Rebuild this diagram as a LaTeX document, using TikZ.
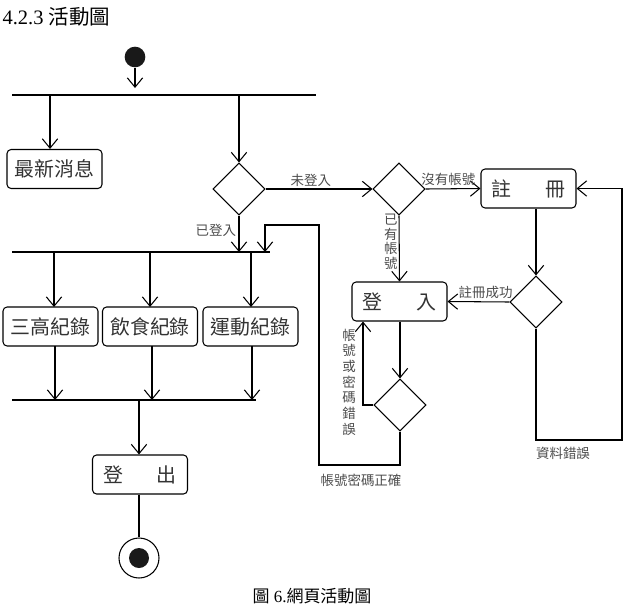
\documentclass[tikz,border=0pt]{standalone}
\usepackage{fontspec}
\setmainfont{Liberation Serif}
\newfontfamily\cjk{Noto Sans CJK TC}
\usetikzlibrary{arrows.meta,shapes.geometric}

\begin{document}
\begin{tikzpicture}[x=0.03cm,y=-0.03cm,line width=0.9pt,
  >={Straight Barb[length=2.8mm,width=4.6mm,line width=0.9pt]},
  act/.style={draw,rounded corners=3.5pt,minimum width=2.85cm,minimum height=1.17cm,
    inner sep=0pt,font=\cjk\fontsize{17}{20}\selectfont,text=black!80},
  spread/.style={text width=2.2cm,align=left},
  dec/.style={draw,diamond,aspect=1,minimum size=1.56cm,inner sep=0pt},
  lbl/.style={font=\cjk\fontsize{11.5}{13}\selectfont,text=black!70,inner sep=2pt},
  vlbl/.style={lbl,align=center,font=\cjk\fontsize{11.5}{12.4}\selectfont}]
\useasboundingbox (0,0) rectangle (624,606);

\node[anchor=west,inner sep=0pt,font=\fontsize{17.5}{19}\selectfont] (title) at (2,17) {4.2.3 {\cjk 活動圖}};

% start
\node[circle,fill=black!90,minimum size=0.62cm,inner sep=0pt] (start) at (135,57) {};
\coordinate (startend) at (135,88);
\draw[->] (start.south) -- (startend);

% fork bars
\coordinate (barAl) at (12,95);  \coordinate (barAr) at (316,95);
\coordinate (barBl) at (12,252); \coordinate (barBr) at (270,252);
\coordinate (barCl) at (12,400); \coordinate (barCr) at (256,400);
\draw (barAl) -- (barAr);
\draw (barBl) -- (barBr);
\draw (barCl) -- (barCr);

\node[act] (news) at (54.5,169) {最新消息};
\coordinate (bA1) at (50,95);
\coordinate (bA2) at (239,95);
\draw[->] (bA1) -- (news.north -| bA1);

\node[dec] (d1) at (239,189) {};
\draw[->] (bA2) -- (d1.north);

\node[dec] (d2) at (399,189) {};
\draw[->] (d1.east) -- node[lbl,above,xshift=-7] (lnot) {未登入} (d2.west);

\node[act,spread] (reg) at (528.5,188.5) {註\hfill 冊};
\draw[->] (d2.east) -- node[lbl,above,xshift=-4] (lnoacc) {沒有帳號} (reg.west);

\node[act,spread] (login) at (399.5,301.5) {登\hfill 入};
\draw[->] (d2.south) -- node[vlbl,left,xshift=1,pos=0.4] (lhas) {已\\有\\帳\\號} (login.north);

\node[dec] (d3) at (536,302) {};
\draw[->] (reg.south -| d3.north) -- (d3.north);
\draw[->] (d3.west) -- node[lbl,above,xshift=6] (lregok) {註冊成功} (login.east);
\coordinate (c3) at (622,440);
\draw[->] (d3.south) |- (c3) |- (reg.east);
\node[lbl] (lregerr) at (563,453) {資料錯誤};

\node[dec] (d4) at (400,405) {};
\draw[->] (login.south -| d4.north) -- (d4.north);
\coordinate (c4) at (363,405);
\draw[->] (d4.west) -- (c4) -- (c4 |- login.south);
\node[vlbl,font=\cjk\fontsize{11.5}{13.4}\selectfont] (lpwerr) at (349,382) {帳\\號\\或\\密\\碼\\錯\\誤};

\coordinate (c5) at (319,465);
\coordinate (c6) at (265,225);
\draw[->] (d4.south) |- (c5) |- (c6) -- (c6 |- barBr);
\node[lbl] (lpwok) at (361,480) {帳號密碼正確};

\draw[->] (d1.south) -- node[lbl,left,pos=0.4] (lin) {已登入} (d1.south |- barBr);

% records
\node[act] (rec1) at (50.5,326.5) {三高紀錄};
\node[act] (rec2) at (150,326.5) {飲食紀錄};
\node[act] (rec3) at (250.5,326.5) {運動紀錄};
\foreach \r/\x in {rec1/54,rec2/150,rec3/251} {
  \draw[->] (\x,252) -- (\x,307);
}
\foreach \r/\x in {rec1/55,rec2/152,rec3/252} {
  \draw[->] (\x,346) -- (\x,400);
}

\node[act,spread] (logout) at (140,474.5) {登\hfill 出};
\coordinate (bC) at (139,400);
\draw[->] (bC) -- (logout.north -| bC);

% end
\node[circle,draw,minimum size=1.2cm,inner sep=0pt] (stop) at (139,558) {};
\node[circle,fill=black!90,minimum size=0.6cm,inner sep=0pt] (stopdot) at (stop.center) {};
\draw (logout.south -| stop.north) -- (stop.north);

\node[font=\fontsize{14.5}{16}\selectfont,inner sep=0pt] (caption) at (312,596) {{\cjk 圖} 6.{\cjk 網頁活動圖}};
\end{tikzpicture}
\end{document}
